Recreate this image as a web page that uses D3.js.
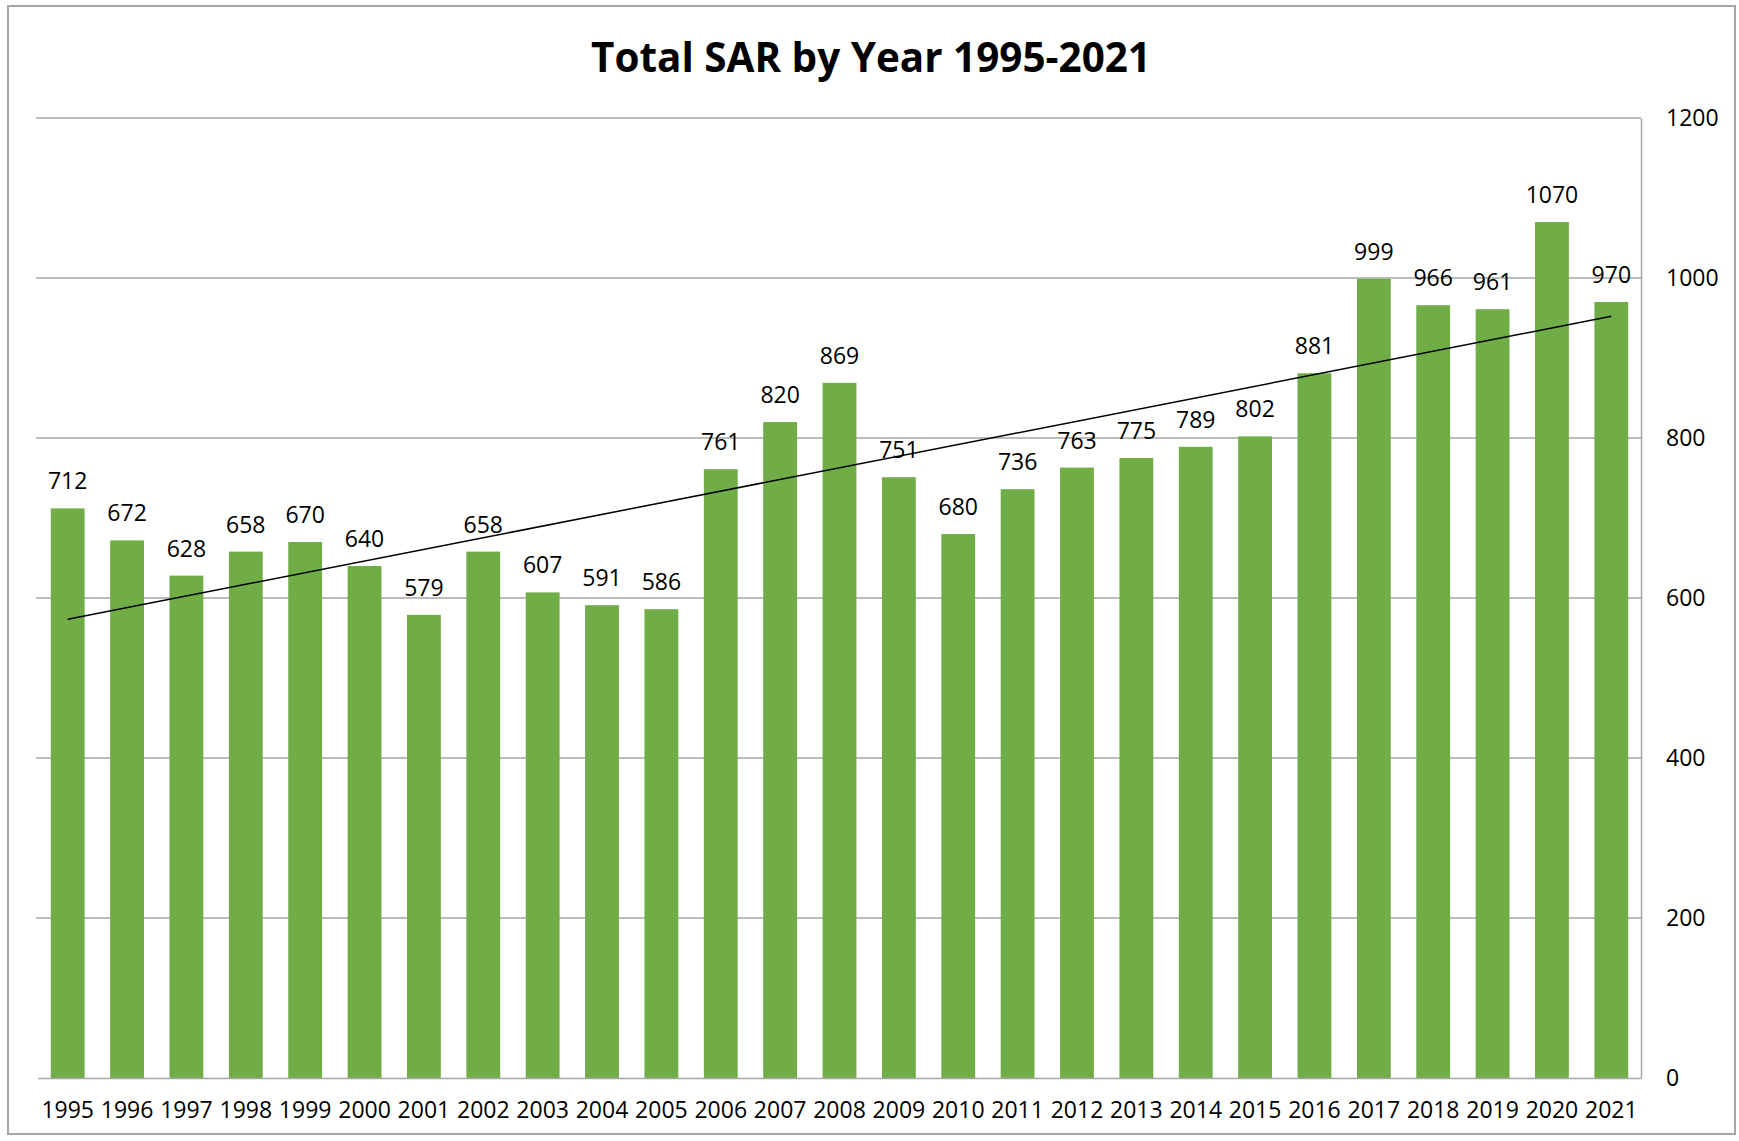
<!DOCTYPE html>
<html lang="en">
<head>
    <meta charset="UTF-8">
    <title>Total SAR by Year 1995-2021</title>
    <style>
        body{
            margin: 0;
            background: #ffffff;
            font-family: "Open Sans", "Liberation Sans", sans-serif;
        }
    </style>
    <script src="https://d3js.org/d3.v7.min.js"></script>
</head>
<body>
    <script>
        var years = ["1995","1996","1997","1998","1999","2000","2001","2002","2003","2004","2005","2006","2007",
                     "2008","2009","2010","2011","2012","2013","2014","2015","2016","2017","2018","2019","2020","2021"];
        var sarTotals = [712,672,628,658,670,640,579,658,607,591,586,761,820,869,751,680,736,763,775,789,802,881,999,966,961,1070,970];
        var yTicks = [0,200,400,600,800,1000,1200];

        var width = 1739,
            height = 1141,
            plotLeft = 38, plotRight = 1641,
            plotTop = 118, plotBottom = 1078;

        var svg = d3.select("body")
            .append("svg")
            .attr("width", width)
            .attr("height", height);

        // outer chart frame
        svg.append("rect")
            .attr("x", 8).attr("y", 6)
            .attr("width", 1727).attr("height", 1128)
            .attr("fill", "none")
            .attr("stroke", "#a6a6a6")
            .attr("stroke-width", 2);

        svg.append("text")
            .attr("x", 871)
            .attr("y", 72)
            .attr("text-anchor", "middle")
            .attr("textLength", 560)
            .attr("lengthAdjust", "spacingAndGlyphs")
            .style("font-size", "42px")
            .style("font-weight", "bold")
            .text("Total SAR by Year 1995-2021");

        var x = d3.scaleBand().domain(years).range([plotLeft, plotRight]).paddingInner(0.43).paddingOuter(0.215);
        var y = d3.scaleLinear().domain([0, 1200]).range([plotBottom, plotTop]);

        // gridlines
        svg.selectAll("line.grid")
            .data(yTicks.slice(1))
            .enter()
            .append("line")
            .attr("class", "grid")
            .attr("x1", 36).attr("x2", plotRight)
            .attr("y1", d => y(d)).attr("y2", d => y(d))
            .attr("stroke", "#a6a6a6")
            .attr("stroke-width", 1.5);

        // right axis
        var yAxis = svg.append("g")
            .attr("transform", "translate(" + plotRight + ",0)")
            .call(d3.axisRight(y).tickValues(yTicks).tickSize(0).tickPadding(25).tickFormat(d3.format("d")));
        yAxis.select(".domain").attr("stroke", "#a6a6a6").attr("stroke-width", 1.5);
        yAxis.selectAll("text")
            .style("font-family", "'Open Sans', 'Liberation Sans', sans-serif")
            .style("font-size", "23px")
            .attr("fill", "#000");

        svg.selectAll("rect.bar")
            .data(sarTotals)
            .enter()
            .append("rect")
            .attr("class", "bar")
            .attr("x", (d, i) => x(years[i]))
            .attr("y", d => y(d))
            .attr("width", x.bandwidth())
            .attr("height", d => y(0) - y(d))
            .attr("fill", "#70ad47");

        // bottom axis
        var xAxis = svg.append("g")
            .attr("transform", "translate(0," + plotBottom + ")")
            .call(d3.axisBottom(x).tickSize(0).tickPadding(24));
        xAxis.select(".domain").attr("stroke", "#a6a6a6").attr("stroke-width", 1.5);
        xAxis.selectAll("text")
            .style("font-family", "'Open Sans', 'Liberation Sans', sans-serif")
            .style("font-size", "23px")
            .attr("fill", "#000");

        // data labels
        svg.selectAll("text.val")
            .data(sarTotals)
            .enter()
            .append("text")
            .attr("class", "val")
            .attr("x", (d, i) => x(years[i]) + x.bandwidth() / 2)
            .attr("y", d => y(d) - 19)
            .attr("text-anchor", "middle")
            .style("font-size", "23px")
            .text(d => d);

        // linear trendline (least squares over the bars)
        var n = sarTotals.length;
        var mx = (n - 1) / 2, my = d3.mean(sarTotals);
        var sxy = d3.sum(sarTotals, (v, i) => (i - mx) * (v - my));
        var sxx = d3.sum(sarTotals, (v, i) => (i - mx) * (i - mx));
        var slope = sxy / sxx, icpt = my - slope * mx;
        var trend = [0, n - 1].map(i => [x(years[i]) + x.bandwidth() / 2, y(icpt + slope * i)]);

        svg.append("path")
            .attr("d", d3.line()(trend))
            .attr("fill", "none")
            .attr("stroke", "#000")
            .attr("stroke-width", 1.5);
    </script>
</body>
</html>
